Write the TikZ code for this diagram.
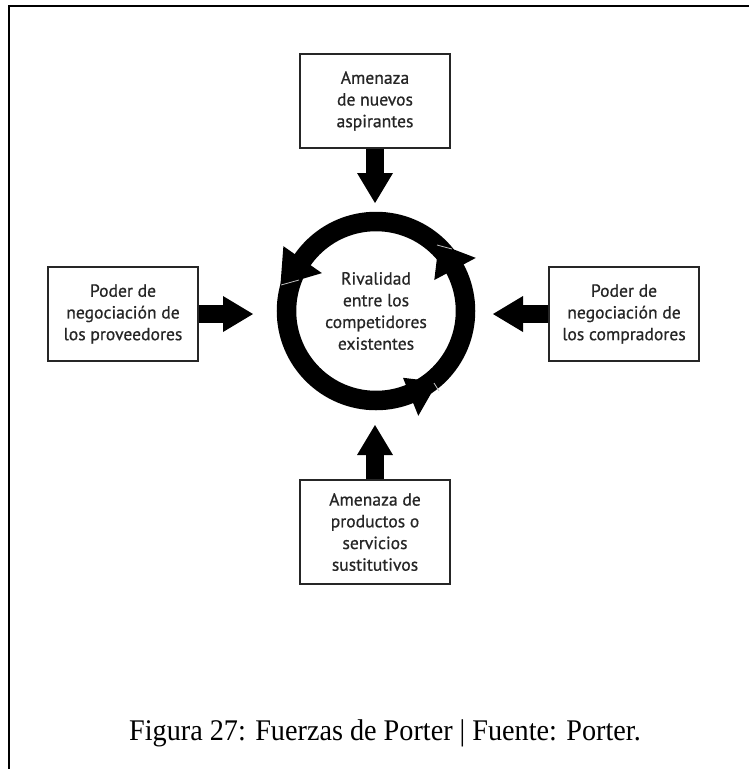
\documentclass[tikz,border=0pt]{standalone}
\usepackage{fontspec}
\setmainfont{Liberation Serif}
\newfontfamily\forcefont[FakeBold=0.7]{PT Sans}
\newfontfamily\captionfont[FakeStretch=0.94]{Liberation Serif}
\usetikzlibrary{arrows.meta}
\begin{document}
\begin{tikzpicture}[x=1pt,y=-1pt,
  forcebox/.style={draw=black!85, line width=1.3pt, fill=white, minimum width=150pt,
    inner sep=0pt, align=center, text=black!85,
    font=\forcefont\fontsize{17.6}{21.7}\selectfont},
  push/.style={line width=18pt,
    -{Triangle[length=30pt 0 0, width=36pt 0 0, line width=0pt 0 0]}},
  ringnode/.style={circle, draw=black, line width=19.5pt, minimum size=179pt,
    inner sep=0pt, align=center, text=black!85,
    font=\forcefont\fontsize{17.6}{21.7}\selectfont},
  head/.style={fill=black},
  seam/.style={draw=white!75!black, line width=0.8pt},
  caption/.style={font=\captionfont\fontsize{30}{36}\selectfont, anchor=base}
]
\useasboundingbox (0,0) rectangle (749,769);

% frame
\draw[line width=2.5pt] (9,769) -- (9,6) -- (749,6);

% central rivalry ring
\node[ringnode] (rival) at (376,311) {Rivalidad\\entre los\\competidores\\existentes};

% arrowheads on the ring (counter-clockwise flow)
\fill[head] (280.4,285.4) -- (283.4,246.2) -- (321.9,273.1) -- cycle;
\fill[head] (438.7,243.7) -- (475.8,257.9) -- (434.3,280.0) -- cycle;
\fill[head] (437.7,381.9) -- (418.3,415.8) -- (403.0,377.8) -- cycle;
\draw[seam] (281,285) -- (299,280);
\draw[seam] (437,245) -- (452,249);
\draw[seam] (434,383) -- (439,391);

% the four forces
\node[forcebox, minimum height=94pt] (newc) at (375,101) {Amenaza\\de nuevos\\aspirantes};
\node[forcebox, minimum height=94pt] (supp) at (123,314) {Poder de\\negociación de\\los proveedores};
\node[forcebox, minimum height=94pt] (buy) at (624,314) {Poder de\\negociación de\\los compradores};
\node[forcebox, minimum height=104pt] (subs) at (375,532) {Amenaza de\\productos o\\servicios\\sustitutivos};

% arrow tips
\coordinate (tNew) at (375,203);
\coordinate (tSupp) at (253,314);
\coordinate (tBuy) at (493,314);
\coordinate (tSubs) at (375,425);

\draw[push] (newc.south) -- (tNew);
\draw[push] (supp.east) -- (tSupp);
\draw[push] (buy.west) -- (tBuy);
\draw[push] (subs.north) -- (tSubs);

% caption
\node[caption] (cap) at (385,740) {Figura 27: Fuerzas de Porter | Fuente: Porter.};
\end{tikzpicture}
\end{document}
